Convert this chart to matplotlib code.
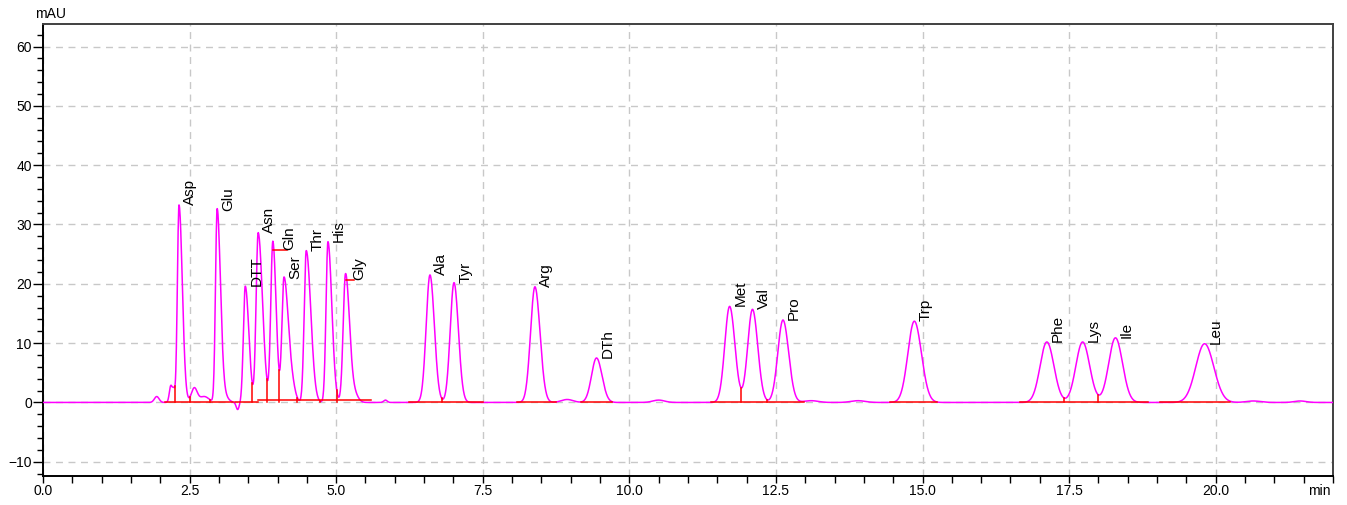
"""
HPLC amino acid chromatogram (mAU vs. min) with integration baselines and peak labels.
"""
import numpy as np
import matplotlib.pyplot as plt
from matplotlib.ticker import MultipleLocator, FormatStrFormatter

# labelled peaks: name, retention time (min), apex height (mAU),
# front sigma (min) and tail factor (back sigma = front sigma * tail)
peak_names = ["Asp", "Glu", "DTT", "Asn", "Gln", "Ser", "Thr", "His", "Gly", "Ala", "Tyr",
              "Arg", "DTh", "Met", "Val", "Pro", "Trp", "Phe", "Lys", "Ile", "Leu"]
peak_rt = [2.32, 2.97, 3.45, 3.67, 3.92, 4.11, 4.49, 4.86, 5.16, 6.60, 7.01,
           8.39, 9.44, 11.71, 12.10, 12.62, 14.86, 17.12, 17.73, 18.29, 19.81]
peak_height = [33.3, 32.3, 19.6, 28.6, 27.1, 20.8, 25.6, 27.1, 21.7, 21.5, 20.2,
               19.5, 7.5, 16.2, 15.7, 13.9, 13.7, 10.2, 10.2, 10.9, 9.9]
peak_sigma = [0.028, 0.028, 0.032, 0.035, 0.035, 0.035, 0.035, 0.033, 0.04, 0.065, 0.065,
              0.075, 0.085, 0.082, 0.082, 0.088, 0.11, 0.115, 0.115, 0.115, 0.15]
peak_tail = [2.0, 2.0, 1.9, 2.1, 1.6, 2.0, 2.2, 2.0, 1.7, 1.15, 1.15,
             1.15, 1.1, 1.1, 1.1, 1.1, 1.1, 1.05, 1.05, 1.05, 1.05]

# small unlabelled features (shoulders, tails, system dip, baseline bumps)
minor_rt = [1.94, 2.18, 2.23, 2.58, 2.75, 3.08, 3.32, 4.24, 5.32, 5.84, 8.94, 10.5, 13.1, 13.9, 20.64, 21.44]
minor_height = [1.0, 2.8, 2.0, 2.4, 1.0, 1.2, -1.2, 2.8, 1.2, 0.4, 0.5, 0.4, 0.3, 0.3, 0.25, 0.25]
minor_sigma = [0.04, 0.025, 0.02, 0.05, 0.08, 0.07, 0.025, 0.06, 0.06, 0.03, 0.1, 0.1, 0.12, 0.12, 0.12, 0.1]

# integration baselines (min) and valley drop lines (min)
base_start = [2.08, 3.28, 3.67, 6.25, 8.09, 9.18, 11.39, 14.45, 16.67, 19.05]
base_end = [3.24, 3.66, 5.59, 7.50, 8.75, 9.71, 12.98, 15.25, 18.85, 20.25]
base_level = [0.0, 0.1, 0.4, 0.0, 0.0, 0.0, 0.0, 0.0, 0.0, 0.0]
drop_t = [2.25, 2.50, 2.85, 3.57, 3.82, 4.03, 4.34, 4.73, 5.01, 6.80, 11.91, 12.35, 17.42, 18.00]
leader_peaks = {"Gln": 0.24, "Gly": 0.14}

TRACE = "#ff00ff"
BASE = "#ff0000"

t = np.arange(0.0, 22.0, 0.005)
signal = np.zeros_like(t)
for rt, h, s, k in zip(peak_rt, peak_height, peak_sigma, peak_tail):
    sig = np.where(t < rt, s, s * k)
    signal += h * np.exp(-0.5 * ((t - rt) / sig) ** 2)
for rt, h, s in zip(minor_rt, minor_height, minor_sigma):
    signal += h * np.exp(-0.5 * ((t - rt) / s) ** 2)

plt.rcParams["font.family"] = ["Liberation Sans", "DejaVu Sans"]
plt.rcParams["font.size"] = 10

fig = plt.figure(figsize=(13.47, 5.05), dpi=100)
ax = fig.add_axes([0.0319, 0.0574, 0.9577, 0.8951])

ax.plot(t, signal, color=TRACE, lw=1.1, zorder=3)

for a, b, lv in zip(base_start, base_end, base_level):
    ax.plot([a, b], [lv, lv], color=BASE, lw=1.1, zorder=4)
for d in drop_t:
    ax.plot([d, d], [0, np.interp(d, t, signal)], color=BASE, lw=1.1, zorder=4)

for nm, rt, h in zip(peak_names, peak_rt, peak_height):
    lx, ly = rt, h
    if nm in leader_peaks:
        ly = h * 0.95
        lx = rt + leader_peaks[nm] * 0.35
        ax.plot([rt, rt + leader_peaks[nm]], [ly, ly], color=BASE, lw=1.1, zorder=4)
    ax.annotate(nm, xy=(lx, ly), xytext=(3, 0), textcoords="offset points",
                rotation=90, rotation_mode="anchor", ha="left", va="top", fontsize=11, zorder=5)

ax.set_xlim(0, 22.0)
ax.set_ylim(-12.4, 63.8)
ax.xaxis.set_major_locator(MultipleLocator(2.5))
ax.xaxis.set_minor_locator(MultipleLocator(0.5))
ax.xaxis.set_major_formatter(FormatStrFormatter("%.1f"))
ax.yaxis.set_major_locator(MultipleLocator(10))
ax.yaxis.set_minor_locator(MultipleLocator(2))
ax.tick_params(axis="y", which="major", length=7, width=1.0, pad=1, labelsize=10)
ax.tick_params(axis="y", which="minor", length=4, width=1.0)
ax.tick_params(axis="x", which="both", length=5, width=1.0, pad=1, labelsize=10)
ax.grid(True, which="major", color="#c8c8c8", linestyle=(0, (5, 4)), lw=1.0)
for sp in ax.spines.values():
    sp.set_linewidth(1.4)
    sp.set_color("black")
ax.spines["right"].set_color("#404040")
ax.spines["top"].set_color("#404040")

ax.annotate("mAU", xy=(0, 1), xycoords="axes fraction", xytext=(-6, 2), textcoords="offset points",
            ha="left", va="bottom", fontsize=10)
ax.annotate("min", xy=(1, 0), xycoords="axes fraction", xytext=(-2, -6), textcoords="offset points",
            ha="right", va="top", fontsize=10)

fig.savefig("out.png", dpi=100)
